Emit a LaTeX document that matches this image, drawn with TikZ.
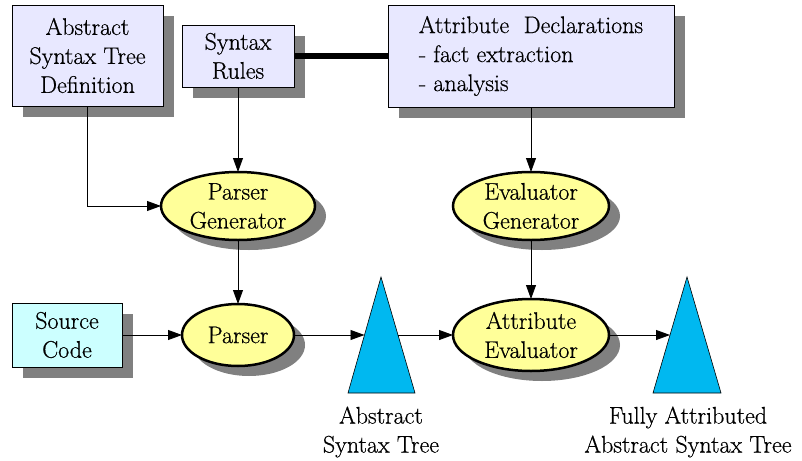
\documentclass[tikz,border=0pt]{standalone}
\usepackage{fontspec}
\setmainfont{Latin Modern Roman}[FakeBold=0.6]
\usetikzlibrary{shapes.geometric,shadows,arrows.meta}
\definecolor{boxfill}{RGB}{232,232,255}
\definecolor{srcfill}{RGB}{204,255,255}
\definecolor{ellfill}{RGB}{255,255,153}
\definecolor{trifill}{RGB}{0,184,240}
\definecolor{shade}{RGB}{128,128,128}
\begin{document}
\begin{tikzpicture}[x=1pt,y=-1pt,
  every node/.style={font=\fontsize{24}{29}\selectfont, inner sep=0pt, outer sep=0pt},
  myshadow/.style={drop shadow={shadow xshift=11pt,shadow yshift=-11pt,fill=shade,opacity=1}},
  rectbox/.style={rectangle, draw=black, line width=0.8pt, fill=boxfill, align=center, myshadow},
  srcbox/.style={rectbox, fill=srcfill},
  ellbox/.style={ellipse, draw=black, line width=2.5pt, fill=ellfill, align=center,
    inner xsep=-20pt, inner ysep=-10pt, drop shadow={shadow xshift=11pt,shadow yshift=-10pt,fill=shade,opacity=1}},
  conn/.style={draw=black, line width=0.8pt, -{Triangle[length=14pt,width=10pt]}},
  tri/.style={draw=black, line width=0.6pt, fill=trifill},
  lbl/.style={align=center}
]
\useasboundingbox (0,0) rectangle (802,460);

% boxes
\node[rectbox, minimum width=151pt, minimum height=101pt] (astdef) at (87.5,55.5) {Abstract\\Syntax Tree\\Definition};
\node[rectbox, minimum width=112pt, minimum height=62pt] (rules) at (238,56) {Syntax\\Rules};
\node[rectbox, minimum width=286pt, minimum height=102pt, align=left] (attr) at (531,56) {Attribute\ \ Declarations\\- fact extraction\\- analysis};
\node[srcbox, minimum width=110pt, minimum height=64pt] (src) at (67,335) {Source\\Code};

% ellipses
\node[ellbox, minimum width=154pt, minimum height=68pt] (pgen) at (238,206) {Parser\\Generator};
\node[ellbox, minimum width=156pt, minimum height=68pt] (egen) at (531,206) {Evaluator\\Generator};
\node[ellbox, minimum width=112pt, minimum height=62pt] (parser) at (238,335) {Parser};
\node[ellbox, minimum width=156pt, minimum height=72pt] (aeval) at (531,335) {Attribute\\Evaluator};

% triangles
\draw[tri] (381,277) -- (415,393) -- (348,393) -- cycle;
\draw[tri] (687,277) -- (721,393) -- (653,393) -- cycle;
\coordinate (t1l) at (364.5,335);
\coordinate (t1r) at (397.5,335);
\coordinate (t2l) at (670,335);

% labels
\node[lbl] (astlbl) at (381,432) {Abstract\\Syntax Tree};
\node[lbl] (fastlbl) at (688,432) {Fully Attributed\\Abstract Syntax Tree};

% connectors
\draw[line width=6pt] (rules.east) -- (attr.west);
\draw[conn] (astdef.south) |- (pgen.west);
\draw[conn] (rules.south) -- (pgen.north);
\draw[conn] (attr.south) -- (egen.north);
\draw[conn] (pgen.south) -- (parser.north);
\draw[conn] (egen.south) -- (aeval.north);
\draw[conn] (src.east) -- (parser.west);
\draw[conn] (parser.east) -- (t1l);
\draw[conn] (t1r) -- (aeval.west);
\draw[conn] (aeval.east) -- (t2l);
\end{tikzpicture}
\end{document}
